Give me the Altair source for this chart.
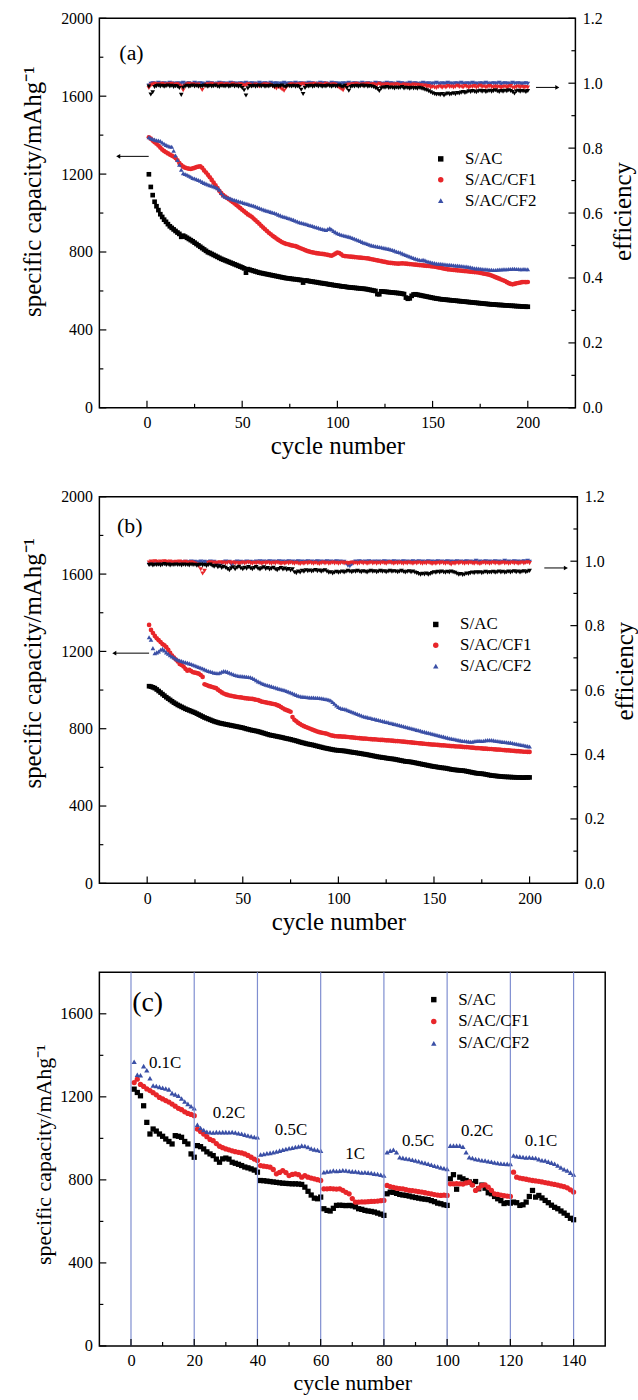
import altair as alt
import pandas as pd

FONT = "Liberation Serif"
SERIES = ["S/AC", "S/AC/CF1", "S/AC/CF2"]
COLORS = ["#000000", "#e8262a", "#3a4fa6"]
SHAPES = ["square", "circle", "triangle-up"]

# ---------------- panel (a): capacity (mAh/g), cycles 1..200 ----------------
a_cap_sac = [
    1199,1134,1092,1058,1035,1015,994,980,966,955,943,932,924,916,908,900,893,878,884,879,
    873,867,861,855,848,841,834,827,820,813,806,799,795,790,785,780,775,770,765,761,
    757,753,749,745,741,737,733,729,725,721,716,694,712,709,706,703,700,697,694,692,
    690,688,686,684,682,680,678,676,674,672,670,668,666,665,664,662,661,660,659,657,
    656,643,654,653,651,649,648,646,645,643,641,640,638,637,635,633,632,630,629,627,
    626,624,623,622,620,619,618,617,616,615,614,613,612,611,610,608,606,604,602,600,
    584,583,598,597,596,595,594,593,592,591,590,589,588,586,584,566,560,562,575,582,
    583,581,579,577,575,573,571,569,567,565,563,561,560,558,557,556,555,554,553,552,
    551,550,549,548,547,546,545,544,543,542,541,540,539,538,537,536,535,534,533,532,
    531,531,530,529,528,528,527,526,526,525,524,524,523,522,522,521,520,520,519,519]
a_cap_cf1 = [
    1389,1382,1372,1364,1356,1347,1336,1326,1318,1312,1306,1300,1295,1290,1282,1271,1257,1246,1238,1233,
    1230,1228,1226,1229,1232,1236,1238,1240,1232,1219,1208,1196,1184,1170,1156,1142,1128,1114,1102,1092,
    1085,1078,1071,1064,1057,1049,1041,1033,1025,1017,1009,1001,993,987,981,972,963,954,945,935,
    926,917,908,899,891,883,876,869,862,856,850,846,842,840,837,834,832,830,826,822,
    818,814,810,806,803,800,798,796,794,793,791,790,789,787,785,783,781,786,792,797,
    795,788,781,779,778,777,776,775,774,773,772,771,770,769,768,767,765,763,761,759,
    757,755,753,751,749,747,745,744,743,742,741,740,741,742,741,740,739,738,737,736,
    735,734,733,732,731,730,729,728,727,726,725,723,721,719,717,715,713,711,710,709,
    708,707,706,705,704,703,702,701,700,699,698,697,696,695,693,691,689,687,685,683,
    679,675,671,667,663,659,655,651,645,640,636,634,636,639,641,643,645,646,645,646]
a_cap_cf2 = [
    1389,1384,1380,1377,1374,1372,1370,1362,1356,1350,1346,1342,1340,1320,1295,1272,1248,1222,1204,1200,
    1197,1192,1186,1180,1177,1174,1170,1166,1160,1155,1151,1147,1143,1140,1136,1132,1128,1120,1103,1090,
    1084,1080,1077,1074,1070,1067,1064,1061,1058,1055,1052,1049,1046,1043,1040,1037,1034,1030,1026,1022,
    1018,1015,1012,1009,1006,1003,1000,996,992,988,984,981,978,975,972,968,965,961,957,953,
    950,948,945,942,939,936,933,930,927,924,921,918,915,913,918,922,915,908,902,896,
    892,889,886,883,881,879,876,872,868,864,860,856,852,848,845,841,837,834,832,830,
    828,826,824,822,820,818,816,813,810,807,803,800,797,793,789,785,781,777,773,769,
    766,763,760,758,760,757,753,750,747,745,743,741,740,739,738,737,736,735,734,733,
    732,731,730,729,728,727,726,725,723,721,719,717,716,715,714,713,712,711,710,709,
    709,708,708,709,710,710,711,711,712,713,713,714,714,713,713,712,712,713,712,712]

# panel (a): coulombic efficiency
a_eff_sac = [
    0.990,0.965,0.972,0.988,0.991,0.993,0.990,0.992,0.989,0.991,0.993,0.990,0.992,0.988,0.991,0.990,0.985,0.964,0.986,0.990,
    0.992,0.989,0.991,0.993,0.990,0.992,0.989,0.991,0.990,0.993,0.991,0.989,0.992,0.990,0.991,0.993,0.990,0.988,0.992,0.991,
    0.990,0.992,0.989,0.991,0.993,0.990,0.992,0.989,0.991,0.985,0.978,0.962,0.984,0.991,0.990,0.992,0.989,0.991,0.993,0.990,
    0.992,0.989,0.991,0.990,0.993,0.991,0.989,0.992,0.990,0.991,0.993,0.990,0.988,0.992,0.991,0.990,0.992,0.989,0.991,0.988,
    0.980,0.967,0.985,0.991,0.990,0.992,0.989,0.991,0.993,0.990,0.992,0.989,0.991,0.990,0.993,0.991,0.989,0.992,0.990,0.991,
    0.993,0.990,0.988,0.992,0.985,0.977,0.988,0.991,0.990,0.992,0.989,0.991,0.993,0.990,0.992,0.989,0.991,0.990,0.988,0.985,
    0.982,0.976,0.984,0.987,0.986,0.988,0.985,0.987,0.986,0.984,0.987,0.985,0.986,0.988,0.984,0.986,0.985,0.983,0.986,0.984,
    0.985,0.983,0.986,0.984,0.982,0.980,0.978,0.975,0.972,0.969,0.967,0.965,0.966,0.964,0.967,0.962,0.966,0.968,0.965,0.967,
    0.969,0.966,0.970,0.968,0.971,0.973,0.970,0.972,0.975,0.973,0.976,0.974,0.972,0.975,0.977,0.974,0.976,0.973,0.975,0.977,
    0.974,0.976,0.978,0.975,0.973,0.976,0.974,0.977,0.975,0.978,0.976,0.973,0.968,0.975,0.977,0.974,0.976,0.975,0.973,0.976]
a_eff_cf1 = [
    0.985,0.993,0.996,0.998,0.995,0.997,0.994,0.998,0.996,0.993,0.997,0.995,0.998,0.994,0.996,0.997,0.993,0.990,0.978,0.992,
    0.996,0.998,0.994,0.997,0.995,0.993,0.996,0.990,0.979,0.991,0.995,0.997,0.994,0.998,0.996,0.993,0.997,0.995,0.998,0.994,
    0.996,0.997,0.993,0.995,0.998,0.994,0.996,0.993,0.997,0.995,0.992,0.994,0.997,0.995,0.991,0.993,0.996,0.994,0.990,0.993,
    0.995,0.997,0.993,0.996,0.994,0.991,0.987,0.984,0.988,0.985,0.981,0.977,0.986,0.992,0.995,0.997,0.994,0.996,0.993,0.997,
    0.995,0.998,0.994,0.996,0.993,0.997,0.995,0.998,0.994,0.996,0.997,0.993,0.995,0.998,0.994,0.996,0.993,0.997,0.995,0.990,
    0.986,0.982,0.978,0.988,0.994,0.996,0.993,0.997,0.995,0.998,0.994,0.996,0.993,0.997,0.995,0.998,0.994,0.996,0.997,0.993,
    0.995,0.998,0.994,0.996,0.993,0.997,0.995,0.994,0.996,0.993,0.997,0.995,0.992,0.994,0.996,0.993,0.995,0.991,0.994,0.996,
    0.993,0.995,0.992,0.994,0.990,0.993,0.988,0.991,0.986,0.989,0.987,0.985,0.988,0.990,0.986,0.989,0.987,0.991,0.988,0.990,
    0.987,0.989,0.992,0.988,0.990,0.987,0.991,0.989,0.986,0.990,0.988,0.991,0.987,0.989,0.992,0.988,0.990,0.987,0.989,0.991,
    0.988,0.986,0.990,0.987,0.989,0.985,0.988,0.990,0.986,0.989,0.991,0.987,0.985,0.988,0.990,0.987,0.989,0.986,0.988,0.987]
a_eff_cf2 = [
    0.993,0.998,1.000,0.999,0.997,1.001,0.999,0.998,1.000,0.997,0.999,1.001,0.998,0.999,0.997,1.000,0.998,0.999,1.001,0.997,
    0.999,1.000,0.998,0.997,1.001,0.999,0.998,1.000,0.999,0.997,0.998,1.001,0.999,1.000,0.998,0.997,0.999,1.001,0.998,1.000,
    0.997,0.999,0.998,1.001,1.000,0.998,0.999,0.997,1.000,0.999,0.998,1.001,0.997,0.999,1.000,0.998,0.999,0.997,1.001,0.999,
    0.998,1.000,0.999,0.997,1.001,0.998,0.999,1.000,0.997,0.999,0.998,1.001,0.999,0.997,1.000,0.998,0.999,1.001,0.998,0.999,
    1.000,0.997,0.999,0.998,1.001,0.999,1.000,0.998,0.997,0.999,1.001,0.998,1.000,0.999,0.997,0.998,1.001,0.999,1.000,0.998,
    0.999,0.997,1.000,0.998,0.999,1.001,0.997,0.999,1.000,0.998,0.999,0.997,1.001,0.999,0.998,1.000,0.999,0.997,0.998,1.001,
    0.999,1.000,0.998,0.997,0.999,1.001,0.998,1.000,0.999,0.997,0.998,1.001,0.999,1.000,0.998,0.997,0.999,1.001,0.998,0.999,
    1.000,0.998,0.997,0.999,1.001,0.999,0.998,1.000,0.997,0.999,0.998,1.001,0.999,0.997,1.000,0.998,0.999,1.001,0.998,0.999,
    0.997,1.000,0.999,0.998,1.001,0.999,0.997,1.000,0.998,0.999,1.001,0.998,0.999,0.997,1.000,0.999,0.998,1.001,0.999,0.997,
    0.999,1.000,0.998,0.999,1.001,0.997,0.999,1.000,0.998,0.999,0.997,1.001,0.999,0.998,1.000,0.999,0.997,0.999,1.000,0.998]

# ---------------- panel (b) ----------------
b_cap_sac = [
    1020,1018,1014,1010,1003,995,987,979,971,963,956,949,942,935,929,923,918,913,908,903,
    899,895,891,887,883,878,873,868,863,858,854,850,846,842,838,835,832,829,827,825,
    823,821,819,817,815,813,811,809,807,805,802,799,797,794,792,790,788,786,783,780,
    777,774,771,768,766,764,762,760,758,756,754,751,749,747,745,742,740,737,734,731,
    728,726,723,721,719,717,715,712,710,707,705,702,700,698,696,694,692,690,689,688,
    687,686,685,684,682,680,679,677,676,674,673,671,669,668,666,664,662,660,658,656,
    654,653,651,650,648,647,645,644,643,641,639,637,635,633,631,630,629,628,626,624,
    622,620,618,616,614,612,610,608,606,604,603,601,600,598,597,596,594,592,590,588,
    587,586,585,584,583,582,580,578,576,574,572,570,569,568,567,566,564,562,560,558,
    557,556,555,554,553,552,551,551,550,550,549,549,548,548,548,547,547,548,548,548]
b_cap_cf1 = [
    1337,1311,1295,1280,1268,1258,1248,1238,1232,1222,1208,1192,1178,1168,1158,1148,1135,1130,1122,1110,
    1100,1105,1098,1092,1090,1088,1085,1078,1068,1030,1026,1022,1019,1016,1013,1010,1002,995,988,982,
    978,975,972,970,968,966,964,963,962,960,958,957,956,955,954,952,950,948,944,940,
    938,936,934,932,930,928,926,922,918,912,906,900,896,892,888,860,846,838,830,824,
    818,813,809,805,801,797,793,789,785,782,780,778,776,774,770,766,764,762,761,760,
    760,759,759,758,757,756,755,754,753,752,751,750,749,749,748,747,746,745,745,744,
    743,742,742,741,740,740,739,738,737,736,736,735,734,733,732,731,730,729,728,727,
    726,725,724,723,722,721,720,719,718,718,717,716,715,714,714,713,712,711,710,710,
    709,708,708,707,706,705,705,704,703,702,701,700,700,699,698,697,697,696,695,695,
    694,693,692,692,691,690,689,688,688,687,686,685,684,684,683,682,681,681,680,680]
b_cap_cf2 = [
    1273,1260,1217,1190,1195,1200,1208,1213,1205,1195,1188,1180,1174,1168,1162,1157,1153,1150,1147,1144,
    1141,1138,1135,1131,1127,1123,1119,1115,1111,1107,1103,1099,1096,1093,1090,1088,1087,1090,1095,1098,
    1097,1094,1090,1086,1082,1078,1075,1073,1072,1071,1070,1069,1068,1066,1062,1057,1051,1045,1040,1035,
    1031,1028,1025,1022,1019,1016,1013,1010,1007,1004,1002,999,995,991,987,983,979,975,971,968,
    966,965,964,963,962,961,961,960,960,959,958,956,954,952,950,946,938,929,920,912,
    907,904,902,900,896,892,888,884,880,876,872,868,865,862,860,857,855,852,850,847,
    845,842,840,838,835,833,830,828,825,823,820,818,815,813,810,808,805,802,800,797,
    794,792,789,786,784,781,779,776,774,771,769,766,764,761,759,756,754,751,749,747,
    745,743,741,739,737,736,735,734,733,733,735,737,738,738,737,738,740,741,742,741,
    740,738,736,735,734,732,731,730,729,728,726,724,722,720,718,716,714,712,710,708]

b_eff_sac = [
    0.988,0.990,0.987,0.989,0.988,0.990,0.987,0.989,0.991,0.988,0.990,0.987,0.989,0.988,0.990,0.988,0.989,0.987,0.990,0.988,
    0.989,0.987,0.990,0.988,0.989,0.986,0.988,0.990,0.987,0.989,0.985,0.988,0.990,0.986,0.983,0.986,0.981,0.984,0.979,0.983,
    0.980,0.976,0.972,0.978,0.981,0.975,0.980,0.983,0.978,0.975,0.980,0.977,0.982,0.978,0.975,0.979,0.982,0.977,0.974,0.978,
    0.981,0.976,0.979,0.974,0.977,0.980,0.975,0.972,0.976,0.979,0.974,0.977,0.973,0.976,0.971,0.975,0.966,0.963,0.968,0.965,
    0.970,0.967,0.972,0.969,0.971,0.968,0.970,0.973,0.969,0.971,0.967,0.970,0.972,0.968,0.964,0.966,0.962,0.965,0.967,0.964,
    0.966,0.968,0.965,0.967,0.970,0.968,0.966,0.969,0.967,0.970,0.968,0.966,0.969,0.967,0.965,0.968,0.970,0.967,0.969,0.966,
    0.968,0.970,0.967,0.969,0.966,0.968,0.970,0.967,0.969,0.968,0.966,0.968,0.970,0.967,0.965,0.967,0.969,0.966,0.968,0.965,
    0.963,0.960,0.958,0.961,0.959,0.962,0.958,0.960,0.963,0.966,0.964,0.967,0.965,0.968,0.966,0.964,0.967,0.965,0.968,0.966,
    0.964,0.961,0.958,0.960,0.957,0.959,0.962,0.960,0.963,0.965,0.963,0.966,0.964,0.966,0.963,0.965,0.967,0.964,0.966,0.965,
    0.967,0.964,0.966,0.968,0.965,0.967,0.964,0.966,0.968,0.965,0.967,0.969,0.966,0.968,0.965,0.967,0.969,0.966,0.968,0.970]
b_eff_cf1 = [
    0.996,0.999,0.997,1.000,0.998,0.996,0.999,0.997,1.000,0.998,0.996,0.999,0.997,0.995,0.998,0.996,0.999,0.997,0.995,0.998,
    0.996,0.994,0.997,0.995,0.993,0.990,0.985,0.975,0.962,0.970,0.988,0.995,0.997,0.994,0.996,0.993,0.995,0.997,0.994,0.996,
    0.993,0.995,0.997,0.994,0.996,0.993,0.995,0.992,0.994,0.996,0.993,0.995,0.997,0.994,0.992,0.995,0.993,0.996,0.994,0.992,
    0.995,0.993,0.996,0.994,0.992,0.995,0.993,0.996,0.994,0.991,0.994,0.992,0.995,0.993,0.996,0.994,0.992,0.995,0.993,0.991,
    0.994,0.992,0.995,0.993,0.996,0.994,0.992,0.995,0.993,0.991,0.994,0.996,0.993,0.995,0.992,0.994,0.996,0.993,0.995,0.992,
    0.994,0.996,0.993,0.995,0.992,0.994,0.996,0.993,0.995,0.992,0.994,0.996,0.993,0.995,0.992,0.994,0.996,0.993,0.995,0.992,
    0.995,0.993,0.996,0.994,0.992,0.995,0.997,0.994,0.992,0.995,0.993,0.996,0.994,0.992,0.995,0.993,0.996,0.994,0.992,0.995,
    0.993,0.996,0.994,0.992,0.995,0.993,0.996,0.994,0.991,0.994,0.992,0.995,0.993,0.996,0.994,0.992,0.995,0.993,0.990,0.994,
    0.992,0.995,0.993,0.996,0.994,0.992,0.995,0.993,0.996,0.994,0.992,0.995,0.993,0.991,0.994,0.996,0.993,0.995,0.992,0.994,
    0.996,0.993,0.995,0.992,0.994,0.996,0.993,0.995,0.992,0.994,0.996,0.993,0.995,0.992,0.994,0.996,0.993,0.995,0.997,0.994]
b_eff_cf2 = [
    0.990,0.992,0.989,0.991,0.993,0.990,0.992,0.994,0.991,0.993,0.995,0.992,0.994,0.996,0.993,0.995,0.997,0.994,0.996,0.998,
    0.995,0.997,0.999,0.996,0.998,0.995,0.997,0.999,0.996,0.998,0.995,0.997,0.999,0.996,0.998,0.995,0.990,0.986,0.992,0.997,
    0.999,0.996,0.998,0.988,0.993,0.997,0.999,0.996,0.998,0.995,0.997,0.999,0.996,0.998,0.995,0.997,0.999,0.996,1.000,0.997,
    0.999,0.996,0.998,1.000,0.997,0.999,0.996,0.998,1.000,0.997,0.999,0.996,0.998,1.000,0.997,0.999,0.996,0.998,1.000,0.997,
    0.999,0.996,0.998,1.000,0.997,0.999,0.996,0.998,1.000,0.997,0.999,0.996,0.998,1.000,0.997,0.999,0.996,0.998,1.000,0.997,
    0.999,0.996,0.998,0.993,0.986,0.984,0.990,0.996,0.999,0.997,1.000,0.998,0.996,0.999,0.997,1.000,0.998,0.996,0.999,0.997,
    0.999,0.996,0.998,1.000,0.997,0.999,0.996,0.998,1.000,0.997,0.999,0.996,0.998,1.000,0.997,0.999,0.996,0.998,1.000,0.997,
    0.998,1.000,0.997,0.999,0.996,0.998,1.000,0.997,0.999,0.996,0.998,1.000,0.997,0.999,0.996,0.998,1.000,0.997,0.999,0.996,
    0.998,1.000,0.997,0.999,0.996,0.998,1.000,0.997,0.999,0.996,0.998,1.001,0.997,0.999,0.996,0.998,1.000,0.997,0.999,0.996,
    0.998,1.000,0.997,0.999,0.996,0.998,1.001,0.997,0.999,0.996,0.998,1.000,0.997,0.999,0.996,0.998,1.000,0.997,1.001,0.998]

# ---------------- panel (c): rate capability, cycles 1..140 ----------------
c_cap_sac = [
    1237,1221,1205,1157,1077,1021,1045,1035,1021,1010,997,985,973,1013,1010,1005,985,973,925,909,
    965,960,949,935,925,917,900,885,901,905,900,885,880,875,869,862,858,853,847,837,
    797,796,794,792,790,788,786,784,783,782,781,781,780,778,765,745,727,712,709,717,
    661,653,650,663,677,678,677,676,677,675,670,661,658,653,650,648,645,640,635,629,
    733,741,740,735,730,727,725,722,718,715,712,709,707,705,700,695,688,685,680,677,
    805,825,755,813,805,797,790,781,792,757,775,760,738,733,720,709,700,686,690,688,
    693,690,677,680,693,720,749,717,725,713,701,690,678,668,661,650,640,629,615,608]
c_cap_cf1 = [
    1269,1285,1260,1250,1238,1230,1220,1210,1197,1190,1182,1175,1165,1155,1145,1138,1128,1120,1115,1109,
    1045,1033,1021,1008,995,989,975,962,955,949,945,940,936,933,930,925,918,909,900,893,
    869,866,864,861,850,829,836,845,835,821,826,829,825,813,820,813,809,805,801,797,
    757,757,758,757,756,757,750,740,733,710,693,693,694,694,695,696,697,698,700,701,
    773,768,764,760,758,757,753,750,748,746,743,741,738,735,732,729,727,725,726,725,
    781,781,782,781,780,785,789,775,749,760,773,776,765,750,733,730,727,724,722,720,
    837,813,809,806,803,800,797,795,793,790,787,784,781,778,775,771,767,762,752,741]
c_cap_cf2 = [
    1369,1306,1304,1348,1328,1290,1255,1252,1248,1244,1240,1236,1218,1212,1205,1192,1178,1166,1155,1145,
    1066,1050,1040,1032,1029,1028,1030,1029,1030,1030,1029,1031,1028,1025,1022,1018,1014,1010,1007,1005,
    922,925,928,930,933,937,941,945,949,952,955,958,961,965,963,958,951,947,944,941,
    837,840,842,845,843,844,846,845,843,841,840,838,836,837,835,833,830,828,825,821,
    933,941,945,933,909,906,903,901,897,893,890,885,882,878,873,868,864,860,856,853,
    965,965,965,965,960,933,909,905,901,898,895,893,890,887,884,881,879,878,877,877,
    917,914,912,910,908,909,907,905,900,895,893,888,883,878,869,860,851,845,835,826]

rate_boundaries = [0, 20, 40, 60, 80, 100, 120, 140]
rate_labels = ["0.1C", "0.2C", "0.5C", "1C", "0.5C", "0.2C", "0.1C"]
rate_label_cycle = [10.8, 31, 50.6, 70.9, 90.8, 109.5, 129.7]
rate_label_capacity = [1361, 1121, 1042, 925, 989, 1033, 985]

# axis ticks
ab_x_major = [0, 50, 100, 150, 200]
ab_x_minor = [25, 75, 125, 175]
ab_y_major = [0, 400, 800, 1200, 1600, 2000]
ab_y_minor = [200, 600, 1000, 1400, 1800]
ab_e_major = [0.0, 0.2, 0.4, 0.6, 0.8, 1.0, 1.2]
ab_e_minor = [0.1, 0.3, 0.5, 0.7, 0.9, 1.1]
c_x_major = [0, 20, 40, 60, 80, 100, 120, 140]
c_x_minor = [10, 30, 50, 70, 90, 110, 130]
c_y_major = [0, 400, 800, 1200, 1600]
c_y_minor = [200, 600, 1000, 1400]

CAP_TITLE = "specific capacity/mAhg\u207b\u00b9"


def to_long(lists, name, order=None):
    rows = []
    idx = order if order is not None else range(len(SERIES))
    for k in idx:
        for i, v in enumerate(lists[k]):
            rows.append({"cycle": i + 1, "series": SERIES[k], name: v})
    return pd.DataFrame(rows)


def ticks(values, scale, orient, W, H, length):
    df = pd.DataFrame({"t": values})
    ch = alt.Chart(df).mark_rule(color="black", strokeWidth=1.2)
    if orient == "bottom":
        return ch.encode(x=alt.X("t:Q", scale=scale),
                         y=alt.value(H), y2=alt.value(H - length))
    if orient == "left":
        return ch.encode(y=alt.Y("t:Q", scale=scale),
                         x=alt.value(0), x2=alt.value(length))
    return ch.encode(y=alt.Y("t:Q", scale=scale),
                     x=alt.value(W), x2=alt.value(W - length))


def arrow(x1, x2, y, xs, ys, shape):
    d = alt.Chart(pd.DataFrame({"_": [0]}))
    line = d.mark_rule(color="black", strokeWidth=1).encode(
        x=alt.XDatum(x1, scale=xs), x2=alt.X2Datum(x2),
        y=alt.YDatum(y, scale=ys))
    tipx = x1 if shape == "triangle-left" else x2
    tip = d.mark_point(shape=shape, filled=True, size=22, color="black",
                       opacity=1, strokeWidth=0).encode(
        x=alt.XDatum(tipx, scale=xs), y=alt.YDatum(y, scale=ys))
    return alt.layer(line, tip)


def tag(text, x, y, xs, ys, size):
    return alt.Chart(pd.DataFrame({"_": [0]})).mark_text(
        font=FONT, fontSize=size, align="left", baseline="middle", color="black"
    ).encode(x=alt.XDatum(x, scale=xs), y=alt.YDatum(y, scale=ys),
             text=alt.value(text))


def legend(lx, ly, fs, rowpad):
    return alt.Legend(orient="none", legendX=lx, legendY=ly, title=None,
                      labelFont=FONT, labelFontSize=fs, labelColor="black",
                      symbolSize=30, symbolStrokeWidth=0, rowPadding=rowpad,
                      padding=0, labelOffset=16)


def ax(**kw):
    base = dict(domain=False, ticks=False, grid=False, labelFont=FONT,
                titleFont=FONT, labelColor="black", titleColor="black",
                titleFontWeight="normal", labelPadding=7)
    base.update(kw)
    return alt.Axis(**base)


def cycling_panel(caps, effs, W, H, tagtxt, tagxy, leg, larrow, rarrow,
                  ltitle_y, rtitle_y):
    xs = alt.Scale(domain=[-25, 225], nice=False, zero=False)
    ys = alt.Scale(domain=[0, 2000], nice=False, zero=False)
    es = alt.Scale(domain=[0, 1.2], nice=False, zero=False)
    lg = legend(leg[0], leg[1], 17, 3)
    cap = alt.Chart(to_long(caps, "capacity")).mark_point(
        filled=True, size=22, opacity=1, strokeWidth=0).encode(
        x=alt.X("cycle:Q", scale=xs, axis=ax(
            values=ab_x_major, title="cycle number", titlePadding=3,
            labelFontSize=16, titleFontSize=25)),
        y=alt.Y("capacity:Q", scale=ys, axis=ax(
            values=ab_y_major, format="d", title=CAP_TITLE, orient="left",
            titlePadding=15, titleY=ltitle_y, labelFontSize=16, titleFontSize=25)),
        color=alt.Color("series:N", scale=alt.Scale(domain=SERIES, range=COLORS), legend=lg),
        shape=alt.Shape("series:N", scale=alt.Scale(domain=SERIES, range=SHAPES), legend=lg),
    )
    eff = alt.Chart(to_long(effs, "efficiency", order=[2, 1, 0])).mark_point(
        filled=True, size=22, opacity=1, strokeWidth=0, shape="triangle-down").encode(
        x=alt.X("cycle:Q", scale=xs),
        y=alt.Y("efficiency:Q", scale=es, axis=ax(
            values=ab_e_major, format=".1f", title="efficiency", orient="right",
            titlePadding=8, titleAngle=270, titleBaseline="top", titleY=rtitle_y,
            labelFontSize=16, titleFontSize=25)),
        color=alt.Color("series:N", scale=alt.Scale(domain=SERIES, range=COLORS), legend=None),
    )
    left = alt.layer(
        cap,
        ticks(ab_x_major, xs, "bottom", W, H, 7),
        ticks(ab_x_minor, xs, "bottom", W, H, 4),
        ticks(ab_y_major, ys, "left", W, H, 7),
        ticks(ab_y_minor, ys, "left", W, H, 4),
        arrow(larrow[0], larrow[1], larrow[2], xs, ys, "triangle-left"),
        tag(tagtxt, tagxy[0], tagxy[1], xs, ys, 22),
    )
    right = alt.layer(
        eff,
        ticks(ab_e_major, es, "right", W, H, 7),
        ticks(ab_e_minor, es, "right", W, H, 4),
        arrow(rarrow[0], rarrow[1], rarrow[2], xs, es, "triangle-right"),
    )
    return alt.layer(left, right).resolve_scale(
        y="independent", color="independent", shape="independent"
    ).properties(width=W, height=H)


panel_a = cycling_panel(
    [a_cap_sac, a_cap_cf1, a_cap_cf2], [a_eff_sac, a_eff_cf1, a_eff_cf2],
    479, 392, "(a)", (-14.5, 1824), (335, 133),
    (-15.1, 0.9, 1291), (204.3, 215.5, 0.987), 174, 194)
panel_b = cycling_panel(
    [b_cap_sac, b_cap_cf1, b_cap_cf2], [b_eff_sac, b_eff_cf1, b_eff_cf2],
    481, 389, "(b)", (-15.8, 1851), (330, 120),
    (-17.2, 1.0, 1191), (207.7, 219.0, 0.979), 167, 175)

# panel (c)
W_C, H_C = 509, 376
xs_c = alt.Scale(domain=[-10, 150], nice=False, zero=False)
ys_c = alt.Scale(domain=[0, 1800], nice=False, zero=False)
lg_c = legend(328, 19, 17, 4)
bounds_c = alt.Chart(pd.DataFrame({"b": rate_boundaries})).mark_rule(
    color="#7f8ed0", strokeWidth=1.2).encode(x=alt.X("b:Q", scale=xs_c))
rate_df = pd.DataFrame({"label": rate_labels, "cycle": rate_label_cycle,
                        "capacity": rate_label_capacity})
rate_txt = alt.Chart(rate_df).mark_text(font=FONT, fontSize=17, color="black").encode(
    x=alt.X("cycle:Q", scale=xs_c),
    y=alt.Y("capacity:Q", scale=ys_c), text="label:N")
cap_c = alt.Chart(to_long([c_cap_sac, c_cap_cf1, c_cap_cf2], "capacity")).mark_point(
    filled=True, size=28, opacity=1, strokeWidth=0).encode(
    x=alt.X("cycle:Q", scale=xs_c, axis=ax(
        values=c_x_major, title="cycle number", titlePadding=3,
        labelFontSize=16.5, titleFontSize=22)),
    y=alt.Y("capacity:Q", scale=ys_c, axis=ax(
        values=c_y_major, format="d", title=CAP_TITLE, orient="left",
        titlePadding=4, titleY=183, labelFontSize=16.5, titleFontSize=22)),
    color=alt.Color("series:N", scale=alt.Scale(domain=SERIES, range=COLORS), legend=lg_c),
    shape=alt.Shape("series:N", scale=alt.Scale(domain=SERIES, range=SHAPES), legend=lg_c),
)
panel_c = alt.layer(
    cap_c, bounds_c, rate_txt,
    ticks(c_x_major, xs_c, "bottom", W_C, H_C, 7),
    ticks(c_x_minor, xs_c, "bottom", W_C, H_C, 4),
    ticks(c_y_major, ys_c, "left", W_C, H_C, 7),
    ticks(c_y_minor, ys_c, "left", W_C, H_C, 4),
    tag("(c)", 0.4, 1650, xs_c, ys_c, 28),
).properties(width=W_C, height=H_C)

chart = alt.vconcat(panel_a, panel_b, panel_c, spacing=89.5, bounds="flush").resolve_scale(
    color="independent", shape="independent", x="independent", y="independent"
).properties(
    padding={"left": 20, "top": 5, "right": 0, "bottom": 0}
).configure_view(stroke="black", strokeWidth=1.5).configure_text(font=FONT)

chart.save("out.html", embed_options={"renderer": "svg", "actions": False})
